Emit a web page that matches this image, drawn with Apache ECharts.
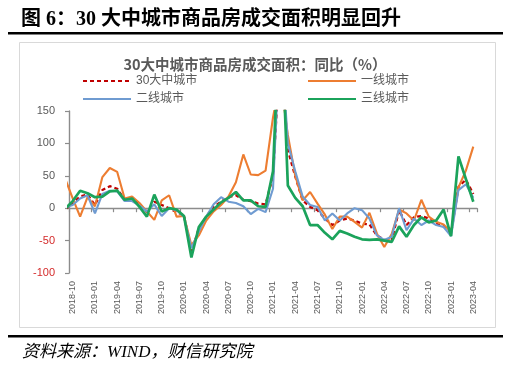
<!DOCTYPE html>
<html><head><meta charset="utf-8">
<script src="https://cdn.jsdelivr.net/npm/echarts@6/dist/echarts.min.js"></script>
<style>html,body{margin:0;padding:0;background:#fff;}#c{width:529px;height:374px;}</style>
</head><body><div id="c"></div>
<script>
// months: first entry (2018-09) lies just left of the visible axis and is clipped
const months = ['2018-09','2018-10','2018-11','2018-12',
'2019-01','2019-02','2019-03','2019-04','2019-05','2019-06','2019-07','2019-08','2019-09','2019-10','2019-11','2019-12',
'2020-01','2020-02','2020-03','2020-04','2020-05','2020-06','2020-07','2020-08','2020-09','2020-10','2020-11','2020-12',
'2021-01','2021-02','2021-03','2021-04','2021-05','2021-06','2021-07','2021-08','2021-09','2021-10','2021-11','2021-12',
'2022-01','2022-02','2022-03','2022-04','2022-05','2022-06','2022-07','2022-08','2022-09','2022-10','2022-11','2022-12',
'2023-01','2023-02','2023-03','2023-04'];
const city30 = [-2, 8, 18, 21, 5, 28, 34, 30, 13, 15, 5, -6, 10, 5, 0, -6, -11, -68, -31, -13, 2, 10, 17, 20, 13, 11, 7, 6, 50, 250, 90, 49, 12, 2, -3, -16, -26, -19, -16, -19, -24, -25, -42, -49, -50, -3, -26, -14, -12, -16, -24, -28, -39, 33, 44, 22];
const tier1 = [45, 15, -13, 17, 3, 48, 62, 56, 15, 18, 8, -5, -18, 12, 20, -13, -12, -57, -42, -19, -5, 5, 18, 40, 83, 52, 51, 58, 140, 200, 113, 50, 12, 25, 7, -10, -32, -13, -13, -21, -30, -7, -39, -60, -40, -2, -8, -19, 13, -13, -21, -25, -37, 32, 58, 95];
const tier2 = [1, 5, 15, 20, -8, 22, 27, 26, 11, 11, 4, -5, 6, -12, 0, -3, -13, -62, -36, -13, 6, 17, 10, 8, 3, -9, -1, -6, 30, 280, 100, 57, 18, 5, 2, -19, -8, -19, -8, 0, -3, -16, -42, -49, -44, 0, -34, -16, -26, -19, -26, -29, -43, 28, 37, 16];
const tier3 = [-1, 11, 27, 23, 17, 18, 26, 27, 13, 15, 2, -13, 21, -5, 0, -2, -12, -76, -29, -13, -2, 9, 16, 25, 12, 12, 3, 2, 57, 330, 35, 16, 3, -26, -26, -38, -48, -35, -39, -44, -48, -49, -48, -50, -52, -28, -44, -26, -14, -22, -19, -2, -43, 80, 45, 10];
const yTicks = {min: -100, max: 150, step: 50};
const names = ['30大中城市', '一线城市', '二线城市', '三线城市'];

const cats = months.slice(1);
const toPairs = arr => arr.map((v, k) => [k - 1, v]);
const axisGray = '#8C8C8C';
const font = '"Liberation Sans", "Noto Sans CJK SC", sans-serif';
const legendBase = {orient: 'vertical', top: 70, itemWidth: 48, itemHeight: 12, itemGap: 6,
  itemStyle: {opacity: 0}, textStyle: {color: '#595959', fontSize: 12, fontFamily: font}};

const chart = echarts.init(document.getElementById('c'), null, {renderer: 'canvas'});
chart.setOption({
  animation: false,
  backgroundColor: '#fff',
  grid: {left: 69, right: 52, top: 111, bottom: 101, containLabel: false},
  legend: [
    Object.assign({data: [names[0], names[2]], left: 77}, legendBase),
    Object.assign({data: [names[1], names[3]], left: 302}, legendBase)
  ],
  xAxis: [
    {type: 'category', data: cats, boundaryGap: true, position: 'bottom',
     axisLine: {show: false, onZero: false}, axisTick: {show: false}, splitLine: {show: false},
     axisLabel: {interval: 2, rotate: 90, margin: 8, fontSize: 9, color: '#595959', fontFamily: font}},
    {type: 'category', data: cats, boundaryGap: true, position: 'bottom',
     axisLine: {show: true, onZero: true, lineStyle: {color: axisGray, width: 1.4}},
     axisTick: {show: true, interval: 2, length: 4, lineStyle: {color: axisGray, width: 1.2}},
     axisLabel: {show: false}, splitLine: {show: false}},
    {type: 'value', min: -0.5, max: cats.length - 0.5, show: false, position: 'top',
     axisLine: {onZero: false}, splitLine: {show: false}}
  ],
  yAxis: {type: 'value', min: yTicks.min, max: yTicks.max, interval: yTicks.step,
    axisLine: {show: true, onZero: false, lineStyle: {color: axisGray, width: 1.4}},
    axisTick: {show: true, length: 4, lineStyle: {color: axisGray, width: 1.2}},
    splitLine: {show: false},
    axisLabel: {fontSize: 11, margin: 14, fontFamily: font,
      color: v => (Number(v) < 0 ? '#D42A2A' : '#595959')}},
  series: [
    {name: names[0], type: 'line', xAxisIndex: 2, data: toPairs(city30), symbol: 'none', clip: true, z: 2,
     lineStyle: {color: '#C00000', width: 2.3, type: [4, 3]}, itemStyle: {color: '#C00000'}},
    {name: names[1], type: 'line', xAxisIndex: 2, data: toPairs(tier1), symbol: 'none', clip: true, z: 3,
     lineStyle: {color: '#ED7D31', width: 2.1}, itemStyle: {color: '#ED7D31'}},
    {name: names[2], type: 'line', xAxisIndex: 2, data: toPairs(tier2), symbol: 'none', clip: true, z: 4,
     lineStyle: {color: '#6F9BD1', width: 2.1}, itemStyle: {color: '#6F9BD1'}},
    {name: names[3], type: 'line', xAxisIndex: 2, data: toPairs(tier3), symbol: 'none', clip: true, z: 5,
     lineStyle: {color: '#1BA35B', width: 2.7}, itemStyle: {color: '#1BA35B'}}
  ],
  graphic: [
    {type: 'rect', z: -10, shape: {x: 19.5, y: 42.5, width: 476, height: 285},
     style: {fill: 'none', stroke: '#D9D9D9', lineWidth: 1}},
    {type: 'text', style: {text: '图 6：30 大中城市商品房成交面积明显回升', x: 21, y: 20,
      textAlign: 'left', textVerticalAlign: 'middle', verticalAlign: 'middle',
      font: 'bold 20px "Liberation Serif", "Noto Sans CJK SC", serif', fill: '#000'}},
    {type: 'rect', shape: {x: 8, y: 32, width: 495, height: 2.5}, style: {fill: '#000'}},
    {type: 'rect', shape: {x: 8, y: 335, width: 495, height: 2.5}, style: {fill: '#000'}},
    {type: 'text', style: {text: '资料来源：WIND，财信研究院', x: 22, y: 353,
      textAlign: 'left', textVerticalAlign: 'middle', verticalAlign: 'middle',
      font: 'italic 17px "Liberation Serif", "Noto Sans CJK SC", serif', fill: '#000'}},
    {type: 'text', style: {text: '30大中城市商品房成交面积：同比（%）', x: 255, y: 64,
      textAlign: 'center', align: 'center', textVerticalAlign: 'middle', verticalAlign: 'middle',
      font: 'bold 14.5px "Noto Sans CJK SC", sans-serif', fill: '#595959'}}
  ]
});
</script>
</body></html>
